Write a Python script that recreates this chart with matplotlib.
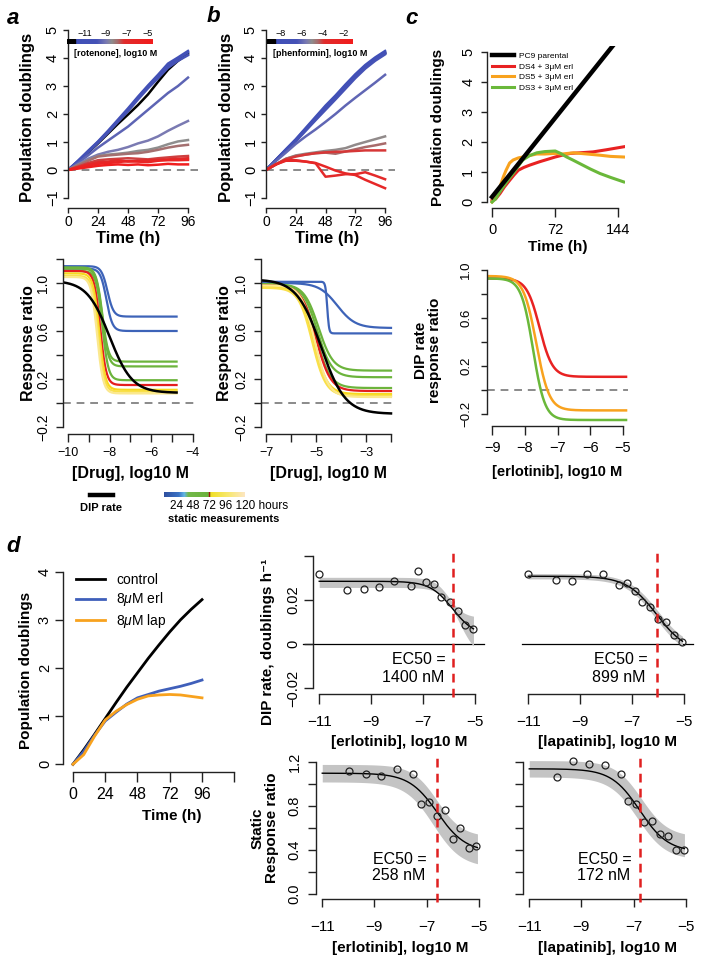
import numpy as np
import matplotlib
matplotlib.use('Agg')
import matplotlib.pyplot as plt
from matplotlib.colors import LinearSegmentedColormap
from matplotlib.lines import Line2D

plt.rcParams['font.family'] = ['Liberation Sans', 'DejaVu Sans']
plt.rcParams['mathtext.fontset'] = 'custom'
plt.rcParams['mathtext.rm'] = 'Liberation Sans'
plt.rcParams['mathtext.it'] = 'Liberation Sans:italic'
plt.rcParams['mathtext.bf'] = 'Liberation Sans:bold'

M = '\u2212'

# ---------------- data ----------------
# a: rotenone growth curves
hours_ab = [0, 8, 16, 24, 32, 40, 48, 56, 64, 72, 80, 88, 96]
rot_control = [0, 0.3, 0.62, 0.95, 1.3, 1.65, 1.98, 2.32, 2.7, 3.15, 3.58, 3.9, 4.15]
rot_conc = [-11, -10.5, -10, -9.5, -9, -8.5, -8, -7.5, -7, -6, -5]
rot_doublings = [
    [0, 0.33, 0.68, 1.02, 1.4, 1.8, 2.2, 2.62, 3.02, 3.4, 3.8, 4.02, 4.25],
    [0, 0.32, 0.66, 1.0, 1.37, 1.76, 2.15, 2.58, 2.98, 3.35, 3.72, 3.98, 4.2],
    [0, 0.3, 0.63, 0.97, 1.33, 1.72, 2.1, 2.52, 2.92, 3.28, 3.65, 3.9, 4.1],
    [0, 0.25, 0.52, 0.8, 1.05, 1.3, 1.55, 1.85, 2.15, 2.45, 2.75, 3.0, 3.3],
    [0, 0.2, 0.4, 0.55, 0.65, 0.72, 0.82, 0.95, 1.05, 1.2, 1.4, 1.58, 1.75],
    [0, 0.18, 0.35, 0.5, 0.55, 0.58, 0.62, 0.68, 0.72, 0.8, 0.92, 1.02, 1.07],
    [0, 0.17, 0.33, 0.48, 0.52, 0.55, 0.58, 0.6, 0.65, 0.72, 0.8, 0.86, 0.9],
    [0, 0.12, 0.25, 0.35, 0.38, 0.4, 0.42, 0.4, 0.38, 0.42, 0.45, 0.48, 0.5],
    [0, 0.1, 0.2, 0.28, 0.3, 0.35, 0.3, 0.32, 0.35, 0.36, 0.38, 0.4, 0.42],
    [0, 0.08, 0.16, 0.22, 0.25, 0.28, 0.32, 0.3, 0.28, 0.33, 0.35, 0.35, 0.36],
    [0, 0.05, 0.1, 0.15, 0.18, 0.2, 0.18, 0.2, 0.17, 0.19, 0.22, 0.2, 0.2],
]

# b: phenformin growth curves
phen_control = [0, 0.36, 0.71, 1.06, 1.45, 1.84, 2.22, 2.6, 2.98, 3.35, 3.68, 3.96, 4.18]
phen_conc = [-8, -7.5, -7, -6.5, -6, -5, -4.5, -4, -3.5, -3]
phen_doublings = [
    [0, 0.37, 0.74, 1.1, 1.5, 1.9, 2.3, 2.66, 3.05, 3.42, 3.75, 4.02, 4.25],
    [0, 0.36, 0.72, 1.08, 1.47, 1.86, 2.25, 2.62, 3.0, 3.38, 3.7, 3.98, 4.2],
    [0, 0.35, 0.7, 1.05, 1.43, 1.82, 2.2, 2.57, 2.95, 3.33, 3.66, 3.94, 4.17],
    [0, 0.34, 0.68, 1.02, 1.4, 1.78, 2.15, 2.52, 2.9, 3.28, 3.62, 3.9, 4.13],
    [0, 0.32, 0.62, 0.93, 1.2, 1.45, 1.72, 2.0, 2.3, 2.58, 2.85, 3.12, 3.4],
    [0, 0.2, 0.4, 0.52, 0.58, 0.63, 0.68, 0.72, 0.78, 0.9, 1.0, 1.1, 1.2],
    [0, 0.2, 0.4, 0.5, 0.55, 0.6, 0.62, 0.58, 0.66, 0.74, 0.82, 0.88, 0.95],
    [0, 0.2, 0.38, 0.48, 0.55, 0.6, 0.63, 0.65, 0.66, 0.68, 0.7, 0.7, 0.7],
    [0, 0.2, 0.35, 0.35, 0.3, 0.24, -0.24, -0.2, -0.15, -0.15, -0.08, -0.2, -0.33],
    [0, 0.2, 0.33, 0.33, 0.3, 0.25, 0.12, -0.02, -0.12, -0.18, -0.35, -0.5, -0.65],
]

# c: erlotinib-treated subclones
c_black_t = [0, 150]
c_black_y = [0.17, 5.66]
c_red_t = [0, 4, 9, 14, 20, 25, 30, 36, 43, 54, 63, 72, 80, 89, 100, 115, 130, 150]
c_red_y = [0.05, 0.1, 0.28, 0.5, 0.72, 0.9, 1.06, 1.15, 1.23, 1.34, 1.42, 1.5, 1.56, 1.62, 1.64, 1.67, 1.74, 1.84]
c_orange_t = [0, 4, 9, 13, 16, 20, 24, 30, 35, 43, 51, 60, 72, 80, 93, 108, 123, 135, 150]
c_orange_y = [0.0, 0.2, 0.5, 0.85, 1.06, 1.3, 1.4, 1.47, 1.5, 1.55, 1.6, 1.6, 1.62, 1.6, 1.64, 1.6, 1.56, 1.52, 1.5]
c_green_t = [0, 4, 8, 12.6, 18, 24, 30, 35, 43, 51, 60, 72, 78, 85, 92, 100, 112, 123, 135, 150]
c_green_y = [0, 0.1, 0.3, 0.5, 0.72, 0.95, 1.2, 1.4, 1.55, 1.64, 1.68, 1.7, 1.62, 1.5, 1.4, 1.28, 1.1, 0.95, 0.82, 0.67]

# dose-response fits: [top, bottom, log10 EC50, hill slope]
rot_dip_fit = [1.02, 0.085, -8.0, 0.8]
rot_static_fits = [
    [1.14, 0.72, -8.1, 3.0], [1.12, 0.60, -8.15, 3.0],
    [1.13, 0.345, -8.35, 3.0], [1.12, 0.305, -8.35, 3.0], [1.10, 0.19, -8.35, 3.0],
    [1.10, 0.15, -8.45, 3.0],
    [1.08, 0.11, -8.5, 3.0], [1.06, 0.095, -8.55, 3.0], [1.05, 0.08, -8.6, 3.0],
]
phen_dip_fit = [1.03, -0.09, -4.8, 0.9]
phen_static_fits = [
    [1.01, 0.58, -4.55, 12.0], [1.00, 0.625, -4.15, 1.2],
    [0.99, 0.27, -4.9, 1.5], [0.99, 0.215, -4.95, 1.5], [0.98, 0.125, -5.0, 1.5],
    [0.98, 0.10, -5.0, 1.5],
    [0.97, 0.075, -5.1, 1.6], [0.96, 0.06, -5.15, 1.6], [0.98, 0.05, -5.05, 1.6],
]
erl_dip_fits = [[0.93, 0.11, -7.55, 2.2], [0.95, -0.17, -7.65, 2.2], [0.93, -0.25, -7.75, 2.4]]

# d: growth curves
hours_d = [0, 8, 16, 24, 32, 40, 48, 56, 64, 72, 80, 88, 96]
d_control = [0, 0.3, 0.62, 0.95, 1.28, 1.6, 1.9, 2.2, 2.48, 2.75, 3.0, 3.22, 3.42]
d_erl = [0, 0.27, 0.6, 0.9, 1.08, 1.25, 1.38, 1.45, 1.52, 1.57, 1.62, 1.68, 1.75]
d_lap = [0, 0.2, 0.58, 0.92, 1.1, 1.24, 1.35, 1.42, 1.44, 1.45, 1.44, 1.41, 1.38]

# d: dose response points
erl_dip_x = [-11, -9.92, -9.29, -8.71, -8.1, -7.47, -7.18, -6.87, -6.58, -6.29, -5.97, -5.66, -5.37, -5.05]
erl_dip_y = [0.0316, 0.0245, 0.0248, 0.026, 0.0287, 0.0265, 0.0331, 0.028, 0.0271, 0.0212, 0.0192, 0.015, 0.0087, 0.0069]
lap_dip_x = [-11, -9.92, -9.32, -8.72, -8.11, -7.49, -7.2, -6.9, -6.6, -6.29, -6.0, -5.69, -5.39, -5.08]
lap_dip_y = [0.0316, 0.0293, 0.0287, 0.0316, 0.0316, 0.0268, 0.0275, 0.0242, 0.019, 0.0167, 0.0114, 0.0099, 0.0039, 0.0009]
erl_static_x = [-9.96, -9.34, -8.75, -8.13, -7.52, -7.22, -6.92, -6.61, -6.31, -6.0, -5.7, -5.39, -5.1]
erl_static_y = [1.123, 1.093, 1.078, 1.138, 1.09, 0.822, 0.837, 0.706, 0.767, 0.499, 0.597, 0.417, 0.432]
lap_static_x = [-9.92, -9.31, -8.71, -8.11, -7.5, -7.2, -6.9, -6.61, -6.31, -6.0, -5.68, -5.38, -5.08]
lap_static_y = [1.065, 1.208, 1.187, 1.175, 1.09, 0.843, 0.819, 0.657, 0.667, 0.548, 0.524, 0.402, 0.402]

# fit, upper band, lower band
erl_dip_curve = [[0.0285, 0.0035, -5.854, 1.0], [0.0303, 0.012, -6.0, 1.5], [0.0257, -0.006, -5.6, 1.3]]
lap_dip_curve = [[0.0308, -0.004, -6.046, 0.75], [0.032, -0.002, -6.0, 0.75], [0.0296, -0.006, -6.09, 0.75]]
erl_static_curve = [[1.10, 0.38, -6.588, 0.8], [1.18, 0.52, -6.6, 0.9], [1.02, 0.24, -6.75, 0.8]]
lap_static_curve = [[1.14, 0.38, -6.764, 0.8], [1.215, 0.52, -6.7, 0.85], [1.065, 0.31, -6.85, 0.8]]
ec50_labels = ['1400 nM', '899 nM', '258 nM', '172 nM']

# ---------------- helpers ----------------
W, H = 704, 964
fig = plt.figure(figsize=(W / 100, H / 100), dpi=100)
PT = 0.72


def px_ax(l, t, r, b):
    return fig.add_axes([l / W, 1 - b / H, (r - l) / W, (b - t) / H])


def px_text(x, y, s, **kw):
    kw.setdefault('ha', 'center')
    kw.setdefault('va', 'center')
    return fig.text(x / W, 1 - y / H, s, **kw)


def hill(x, p):
    top, bottom, ec, h = p
    return bottom + (top - bottom) / (1 + 10 ** (h * (x - ec)))


def lab(v):
    return str(v).replace('-', M)


def r_axes(ax, xt, xl, yt, yl, xfs=10, yfs=10, xoff=0, xlen=3.6, ylen=3.6,
           xpad=2, ypad=2.2, show_y=True):
    ax.spines['top'].set_visible(False)
    ax.spines['right'].set_visible(False)
    ax.patch.set_visible(False)
    for s in ['left', 'bottom']:
        ax.spines[s].set_linewidth(1.0)
        ax.spines[s].set_color('#222222')
    ax.spines['bottom'].set_bounds(xt[0], xt[-1])
    ax.spines['bottom'].set_position(('outward', xoff * PT))
    ax.set_xticks(xt)
    ax.set_xticklabels(xl, fontsize=xfs)
    ax.tick_params(axis='x', direction='out', length=xlen, width=1.0, pad=xpad, color='#222222')
    if show_y:
        ax.spines['left'].set_bounds(yt[0], yt[-1])
        ax.set_yticks(yt)
        ax.set_yticklabels(yl, fontsize=yfs, rotation=90, va='center')
        ax.tick_params(axis='y', direction='out', length=ylen, width=1.0, pad=ypad, color='#222222')
    else:
        ax.spines['left'].set_visible(False)
        ax.set_yticks([])


conc_cmap = LinearSegmentedColormap.from_list('conc', [
    (0.0, '#3f4fb8'), (0.28, '#4552b6'), (0.4, '#7a7ab2'), (0.47, '#8e8e8e'),
    (0.55, '#a86a6a'), (0.63, '#e02c2c'), (1.0, '#f21c1c')])
static_cmap = LinearSegmentedColormap.from_list('static', [
    (0.0, '#2f4f9f'), (0.18, '#3a72c4'), (0.25, '#62b6e6'), (0.3, '#72b84a'),
    (0.55, '#6cb23c'), (0.58, '#f0e028'), (0.8, '#f8e870'), (1.0, '#fde6c2')])
static_colors = ['#3d63b8', '#3d63b8', '#6cb43c', '#6cb43c', '#6cb43c', '#e41e1e',
                 '#f7d81e', '#f9e04a', '#fbe88e']
ZERO_DASH = dict(color='#8a8a8a', lw=1.4, dashes=(4, 3), zorder=0)

# ---------------- panel a (top) ----------------
axa = px_ax(68, 23, 198, 205)
axa.set_xlim(0, 104)
axa.set_ylim(-1.25, 5.25)
axa.axhline(0, **ZERO_DASH)
axa.plot(hours_ab, rot_control, color='black', lw=1.8)
for c, y in zip(rot_conc, rot_doublings):
    axa.plot(hours_ab, y, color=conc_cmap((c + 11.95) / 7.35), lw=1.8)
r_axes(axa, [0, 24, 48, 72, 96], ['0', '24', '48', '72', '96'],
       [-1, 0, 1, 2, 3, 4, 5], [lab(v) for v in range(-1, 6)], xfs=10, yfs=10.5, xoff=3,
       xpad=1.5)

cax = px_ax(67, 39, 152, 44)
cax.imshow(np.linspace(0, 1, 256)[None, :], aspect='auto', cmap=conc_cmap, extent=(-11.95, -4.6, 0, 1))
cax.axvspan(-12.7, -11.95, color='black')
cax.set_xlim(-12.7, -4.6)
cax.set_ylim(0, 1)
cax.set_yticks([])
cax.set_xticks([-11, -9, -7, -5])
cax.set_xticklabels([lab(v) for v in [-11, -9, -7, -5]], fontsize=6.5)
cax.xaxis.tick_top()
cax.tick_params(length=0, pad=1)
for s in cax.spines.values():
    s.set_visible(False)
px_text(116, 53, '[rotenone], log10 M', fontsize=6.5, fontweight='bold')

# ---------------- panel b (top) ----------------
axb = px_ax(266, 23, 395, 205)
axb.set_xlim(0, 104)
axb.set_ylim(-1.25, 5.25)
axb.axhline(0, **ZERO_DASH)
axb.plot(hours_ab, phen_control, color='black', lw=1.8)
for c, y in zip(phen_conc, phen_doublings):
    axb.plot(hours_ab, y, color=conc_cmap((c + 8.5) / 7.3), lw=1.8)
r_axes(axb, [0, 24, 48, 72, 96], ['0', '24', '48', '72', '96'],
       [-1, 0, 1, 2, 3, 4, 5], [lab(v) for v in range(-1, 6)], xfs=10, yfs=10.5, xoff=3,
       xpad=1.5)

cbx = px_ax(267, 39, 352, 44)
cbx.imshow(np.linspace(0, 1, 256)[None, :], aspect='auto', cmap=conc_cmap, extent=(-8.5, -1.2, 0, 1))
cbx.axvspan(-9.25, -8.5, color='black')
cbx.set_xlim(-9.25, -1.2)
cbx.set_ylim(0, 1)
cbx.set_yticks([])
cbx.set_xticks([-8, -6, -4, -2])
cbx.set_xticklabels([lab(v) for v in [-8, -6, -4, -2]], fontsize=6.5)
cbx.xaxis.tick_top()
cbx.tick_params(length=0, pad=1)
for s in cbx.spines.values():
    s.set_visible(False)
px_text(320, 54, '[phenformin], log10 M', fontsize=6.5, fontweight='bold')

# ---------------- panel c (top) ----------------
axc = px_ax(487, 46, 625, 208)
axc.set_xlim(-5.76, 151.5)
axc.set_ylim(-0.2, 5.2)
axc.plot(c_red_t, c_red_y, color='#e82222', lw=2.2, label='DS4 + 3\u03bcM erl')
axc.plot(c_orange_t, c_orange_y, color='#f8a21e', lw=2.2, label='DS5 + 3\u03bcM erl')
axc.plot(c_green_t, c_green_y, color='#6ab83a', lw=2.2, label='DS3 + 3\u03bcM erl')
axc.plot(c_black_t, c_black_y, color='black', lw=3.2, label='PC9 parental')
r_axes(axc, [0, 72, 144], ['0', '72', '144'], [0, 1, 2, 3, 4, 5],
       [lab(v) for v in range(0, 6)], xfs=10.5, yfs=10.5, xlen=6.5, xpad=4.5, ylen=4.5, ypad=4)
h, l = axc.get_legend_handles_labels()
axc.legend([h[3], h[0], h[1], h[2]], [l[3], l[0], l[1], l[2]], loc='upper left',
           bbox_to_anchor=(492 / W, 1 - 52 / H), bbox_transform=fig.transFigure,
           frameon=False, fontsize=6, handlelength=2.6, handletextpad=0.6,
           labelspacing=0.35, borderpad=0, borderaxespad=0)

# ---------------- panel a/b/c (bottom) ----------------
xa = np.linspace(-10.24, -4.78, 300)
axab = px_ax(63, 252, 198, 434)
axab.set_xlim(-10.24, -3.75)
axab.set_ylim(-0.258, 1.258)
axab.axhline(0, **ZERO_DASH)
for p, col in zip(rot_static_fits, static_colors):
    axab.plot(xa, hill(xa, p), color=col, lw=1.6)
axab.plot(xa, hill(xa, rot_dip_fit), color='black', lw=1.8)
yt = [-0.2, 0, 0.2, 0.4, 0.6, 0.8, 1.0, 1.2]
yl = [M + '0.2', '', '0.2', '', '0.6', '', '1.0', '']
r_axes(axab, [-10, -9, -8, -7, -6, -5, -4], [M + '10', '', M + '8', '', M + '6', '', M + '4'],
       yt, yl, xfs=9, yfs=10, xlen=5.5, xpad=3.5, ylen=5, ypad=4)

xb = np.linspace(-7.2, -2.0, 300)
axbb = px_ax(261, 252, 396, 434)
axbb.set_xlim(-7.2, -1.8)
axbb.set_ylim(-0.258, 1.258)
axbb.axhline(0, **ZERO_DASH)
for p, col in zip(phen_static_fits, static_colors):
    axbb.plot(xb, hill(xb, p), color=col, lw=1.6)
axbb.plot(xb, hill(xb, phen_dip_fit), color='black', lw=1.8)
r_axes(axbb, [-7, -6, -5, -4, -3, -2], [M + '7', '', M + '5', '', M + '3', ''],
       yt, yl, xfs=9, yfs=10, xlen=5.5, xpad=3.5, ylen=5, ypad=4)

xc = np.linspace(-9.16, -4.9, 300)
axcb = px_ax(487, 264, 628, 426)
axcb.set_xlim(-9.16, -4.84)
axcb.set_ylim(-0.3, 1.05)
axcb.axhline(0, **ZERO_DASH)
for p, col in zip(erl_dip_fits, ['#e82222', '#f8a21e', '#6ab83a']):
    axcb.plot(xc, hill(xc, p), color=col, lw=1.8)
r_axes(axcb, [-9, -8, -7, -6, -5], [lab(v) for v in [-9, -8, -7, -6, -5]],
       [-0.2, 0, 0.2, 0.4, 0.6, 0.8, 1.0], [M + '0.2', '', '0.2', '', '0.6', '', '1.0'],
       xfs=10.5, yfs=9.5, xlen=6.5, xpad=4.5, ylen=4.5, ypad=6)

# legend under a/b bottom
fig.add_artist(Line2D([90 / W, 113 / W], [1 - 495 / H, 1 - 495 / H], color='black', lw=3.2))
px_text(101, 508, 'DIP rate', fontsize=8, fontweight='bold')
sax = px_ax(164, 492, 245, 497)
sax.imshow(np.linspace(0, 1, 256)[None, :], aspect='auto', cmap=static_cmap, extent=(0, 1, 0, 1))
sax.axvline(0.555, color='#a01010', lw=1)
sax.set_axis_off()
px_text(170, 506, '24 48 72 96 120 hours', fontsize=8.5, ha='left')
px_text(168, 519, 'static measurements', fontsize=8, fontweight='bold', ha='left')

# ---------------- panel d (left) ----------------
axd = px_ax(63, 564, 241, 772)
axd.set_xlim(-7.4, 125)
axd.set_ylim(-0.16, 4.16)
axd.plot(hours_d, d_control, color='black', lw=2.0, label='control')
axd.plot(hours_d, d_erl, color='#3f5fba', lw=2.0, label=r'8$\mu$M erl')
axd.plot(hours_d, d_lap, color='#f8a21e', lw=2.0, label=r'8$\mu$M lap')
r_axes(axd, [0, 24, 48, 72, 96, 120], ['0', '24', '48', '72', '96', ''],
       [0, 1, 2, 3, 4], ['0', '1', '2', '3', '4'], xfs=11.5, yfs=10.5,
       xlen=7, xpad=3.5, ylen=5.5, ypad=2.5)
axd.legend(loc='upper left', bbox_to_anchor=(76 / W, 1 - 573 / H), bbox_transform=fig.transFigure,
           frameon=False, fontsize=10, handlelength=2.1, handletextpad=0.8,
           labelspacing=0.25, borderpad=0, borderaxespad=0)

# ---------------- panel d (right, 2x2) ----------------
quad = [
    (px_ax(313, 552, 481, 694), erl_dip_x, erl_dip_y, erl_dip_curve, 'dip', True),
    (px_ax(522, 552, 690, 694), lap_dip_x, lap_dip_y, lap_dip_curve, 'dip', False),
    (px_ax(316, 757, 485, 899), erl_static_x, erl_static_y, erl_static_curve, 'static', True),
    (px_ax(523, 757, 692, 899), lap_static_x, lap_static_y, lap_static_curve, 'static', None),
]
ec_px = [(446, 660), (648, 660), (427, 859), (632, 859)]
for i, (ax, px, py, cv, kind, ylab) in enumerate(quad):
    ax.set_xlim(-11.24, -4.76)
    xs = np.linspace(-11, -5.05, 200)
    ax.fill_between(xs, hill(xs, cv[2]), hill(xs, cv[1]), color='#c4c4c4', lw=0, zorder=1)
    ax.plot(xs, hill(xs, cv[0]), color='black', lw=1.0, zorder=2)
    ax.plot(px, py, 'o', mfc='none', mec='#222222', mew=0.9, ms=5, zorder=3)
    ax.axvline(cv[0][2], color='#e02020', lw=1.8, dashes=(3.5, 2.5), ymin=-0.02, ymax=1.0,
               clip_on=False, zorder=4)
    if kind == 'dip':
        ax.set_ylim(-0.0227, 0.0418)
        ax.axhline(0, color='black', lw=0.9, xmin=-0.06 if ylab else 0, xmax=1.02,
                   clip_on=False, zorder=0)
        r_axes(ax, [-11, -9, -7, -5], [M + '11', M + '9', M + '7', M + '5'],
               [-0.02, 0, 0.02, 0.04], [M + '0.02', '0', '0.02', ''],
               xfs=11, yfs=10.5, xlen=7, xpad=8, ylen=6.5, ypad=2.5, show_y=bool(ylab))
    else:
        ax.set_ylim(-0.05, 1.248)
        yl_s = ['0.0', '', '0.4', '', '0.8', '', '1.2'] if ylab else [''] * 7
        r_axes(ax, [-11, -9, -7, -5], [M + '11', M + '9', M + '7', M + '5'],
               [0, 0.2, 0.4, 0.6, 0.8, 1.0, 1.2], yl_s, xfs=11, yfs=10.5,
               xlen=6, xpad=9, ylen=6, ypad=4.5)
    ex, ey = ec_px[i]
    px_text(ex, ey, 'EC50 =', fontsize=11.5, ha='right')
    px_text(ex - 2, ey + 17, ec50_labels[i], fontsize=11.5, ha='right')

# ---------------- axis labels ----------------
B = dict(fontweight='bold')
px_text(28, 117, 'Population doublings', fontsize=12, rotation=90, **B)
px_text(226, 117, 'Population doublings', fontsize=12, rotation=90, **B)
px_text(438, 127, 'Population doublings', fontsize=11, rotation=90, **B)
px_text(128, 238, 'Time (h)', fontsize=12, **B)
px_text(327, 238, 'Time (h)', fontsize=12, **B)
px_text(558, 247, 'Time (h)', fontsize=11, **B)
px_text(28, 343, 'Response ratio', fontsize=11.5, rotation=90, **B)
px_text(224, 343, 'Response ratio', fontsize=11.5, rotation=90, **B)
px_text(428, 350, 'DIP rate\nresponse ratio', fontsize=11, rotation=90, linespacing=1.0, **B)
px_text(130, 473, '[Drug], log10 M', fontsize=11.5, **B)
px_text(328, 473, '[Drug], log10 M', fontsize=11.5, **B)
px_text(557, 472, '[erlotinib], log10 M', fontsize=10.5, **B)
px_text(26, 670, 'Population doublings', fontsize=11, rotation=90, **B)
px_text(172, 816, 'Time (h)', fontsize=11, **B)
px_text(268, 642, 'DIP rate, doublings h\u207b\u00b9', fontsize=11, rotation=90, **B)
px_text(265, 828, 'Static\nResponse ratio', fontsize=11, rotation=90, linespacing=1.0, **B)
px_text(399, 742, '[erlotinib], log10 M', fontsize=11, **B)
px_text(607, 742, '[lapatinib], log10 M', fontsize=11, **B)
px_text(400, 948, '[erlotinib], log10 M', fontsize=11, **B)
px_text(608, 948, '[lapatinib], log10 M', fontsize=11, **B)

# panel letters
for s, x, y in [('a', 13, 19), ('b', 213, 17), ('c', 412, 19), ('d', 13, 547)]:
    px_text(x, y, s, fontsize=16, fontweight='bold', fontstyle='italic')

fig.savefig('out.png', dpi=100)
